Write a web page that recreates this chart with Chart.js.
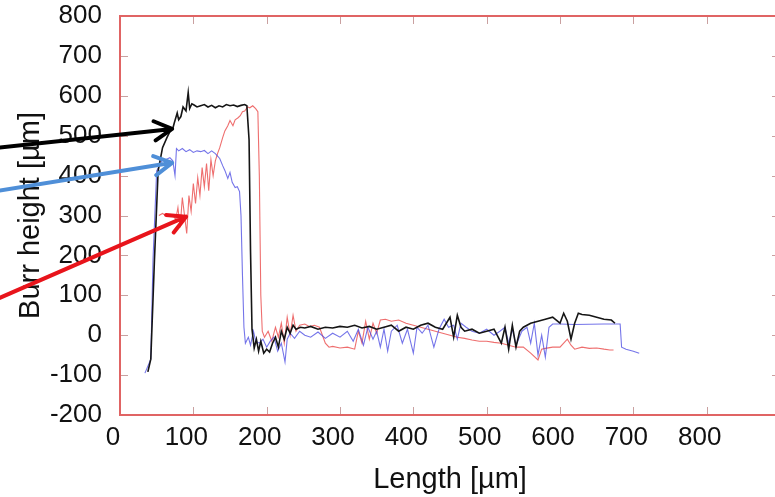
<!DOCTYPE html>
<html>
<head>
<meta charset="utf-8">
<script src="https://cdn.jsdelivr.net/npm/chart.js@4.4.1/dist/chart.umd.min.js"></script>
<style>
  html, body { margin: 0; padding: 0; background: #fff; overflow: hidden; }
  #wrap { width: 800px; height: 497px; }
</style>
</head>
<body>
<div id="wrap"><canvas id="burrChart" width="800" height="497"></canvas></div>
<script>
// === data ===
const blackLength = [38, 42, 47, 52, 58, 64, 68, 72, 74, 78, 80, 83, 86, 90, 93, 95, 98, 101, 105, 110, 115, 120, 125, 130, 135, 140, 145, 150, 155, 160, 165, 170, 173, 176, 178, 180, 183, 186, 189, 192, 196, 200, 204, 208, 212, 216, 220, 224, 228, 232, 236, 240, 246, 252, 260, 270, 280, 290, 300, 310, 320, 330, 340, 350, 360, 370, 380, 390, 400, 410, 420, 430, 440, 450, 455, 460, 465, 470, 480, 490, 500, 510, 520, 525, 530, 535, 540, 545, 550, 560, 570, 580, 590, 600, 605, 610, 615, 620, 625, 630, 640, 650, 660, 670, 675];
const blackHeight = [-92, -60, 190, 412, 470, 495, 510, 518, 532, 557, 540, 548, 572, 562, 608, 568, 580, 577, 572, 575, 578, 572, 576, 570, 575, 572, 578, 575, 577, 573, 576, 578, 575, 490, 210, 15, -32, -10, -40, -15, -45, -35, -42, -20, -5, -30, 10, -10, 20, 5, 25, 15, 20, 18, 22, 15, 20, 18, 22, 20, 25, 18, 22, 15, 20, 25, 10, 20, 15, 25, 30, 20, 15, 45, -5, 50, 20, 10, 15, 5, 10, 15, -20, 20, -35, 25, -30, 10, 20, 30, 35, 40, 45, 30, 55, 35, -10, 30, 55, 52, 50, 45, 40, 38, 30];

const blueLength = [34, 42, 45, 50, 57, 62, 68, 72, 75, 77, 80, 85, 90, 95, 100, 105, 110, 115, 120, 125, 130, 136, 140, 143, 147, 150, 153, 157, 160, 163, 165, 167, 169, 171, 175, 178, 182, 185, 190, 195, 200, 205, 210, 215, 220, 225, 228, 232, 238, 245, 252, 260, 270, 280, 290, 300, 310, 318, 325, 332, 338, 345, 350, 355, 360, 365, 370, 378, 385, 392, 400, 405, 412, 420, 428, 435, 442, 448, 455, 460, 465, 472, 480, 490, 500, 510, 518, 525, 530, 535, 540, 548, 555, 560, 565, 570, 575, 580, 585, 590, 600, 620, 660, 682, 684, 690, 700, 708];
const blueHeight = [-95, -60, 190, 412, 437, 440, 445, 437, 400, 468, 462, 468, 460, 465, 458, 462, 460, 463, 455, 462, 455, 443, 425, 413, 393, 408, 383, 370, 372, 360, 300, 150, 20, -20, -5, -25, 10, -15, -20, -10, -30, -15, -5, -40, -20, -67, -10, 5, -8, 10, 0, -5, 8, -8, 5, -5, 10, -15, 15, -25, 20, -10, 10, -30, 15, -40, 10, 25, -20, 15, -45, 20, 5, 25, -30, 15, 40, 20, 25, -10, 30, 20, 10, 5, 15, 0, 10, 20, -20, 15, -25, 10, 20, -20, 30, -50, 0, -55, 20, 28, 28, 27, 28, 28, -30, -35, -40, -45];

const redLength = [53, 58, 62, 68, 72, 76, 79, 82, 85, 88, 91, 94, 97, 100, 103, 106, 109, 112, 115, 118, 121, 124, 127, 130, 133, 136, 140, 143, 147, 150, 154, 157, 161, 164, 167, 170, 174, 177, 181, 185, 188, 190, 192, 194, 197, 202, 207, 212, 216, 220, 224, 228, 232, 236, 240, 245, 252, 258, 265, 272, 280, 285, 290, 300, 310, 320, 325, 330, 335, 340, 345, 350, 355, 362, 370, 380, 390, 400, 410, 420, 430, 440, 450, 460, 470, 480, 490, 500, 510, 520, 530, 540, 550, 560, 570, 575, 580, 590, 600, 610, 615, 620, 630, 640, 650, 660, 668, 673];
const redHeight = [300, 305, 300, 298, 300, 290, 320, 270, 345, 300, 255, 350, 310, 380, 330, 395, 350, 420, 372, 430, 362, 440, 400, 437, 455, 470, 495, 512, 525, 538, 525, 540, 545, 550, 560, 562, 572, 570, 575, 568, 560, 400, 100, 10, -5, 10, -15, 20, -5, 30, -20, 45, 0, 50, 10, 25, 28, 22, 25, 20, -20, -30, -28, -32, -30, -35, 10, -20, 35, -10, 30, 5, 38, 40, 35, 38, 30, 25, 20, 15, 10, 5, 0, -5, -8, -12, -15, -15, -18, -20, -25, -30, -30, -45, -62, -35, -33, -30, -30, -10, -25, -35, -30, -33, -32, -35, -37, -37];

// arrows drawn on top, in axis units: [fromX, fromY, toX, toY]
const arrowBlack = [-166, 470, 71, 517];
const arrowBlue = [-166, 362, 71, 432];
const arrowRed = [-166, 92, 90, 297];

const xTicksMax = 900;

function pts(xs, ys) {
    return xs.map((x, i) => ({ x: x, y: ys[i] }));
}

// === plugins ===
const frameColor = "#e06464";

const framePlugin = {
    id: "frame",
    afterDatasetsDraw(chart) {
        const { ctx, chartArea: a, scales } = chart;
        ctx.save();
        // inward ticks
        ctx.strokeStyle = "#c9a0a0";
        ctx.lineWidth = 1;
        scales.x.ticks.forEach(t => {
            const px = Math.round(scales.x.getPixelForValue(t.value)) + 0.5;
            ctx.beginPath();
            ctx.moveTo(px, a.bottom); ctx.lineTo(px, a.bottom - 8);
            ctx.moveTo(px, a.top); ctx.lineTo(px, a.top + 8);
            ctx.stroke();
        });
        scales.y.ticks.forEach(t => {
            const py = Math.round(scales.y.getPixelForValue(t.value)) + 0.5;
            ctx.beginPath();
            ctx.moveTo(a.left, py); ctx.lineTo(a.left + 8, py);
            ctx.moveTo(a.right, py); ctx.lineTo(a.right - 8, py);
            ctx.stroke();
        });
        // red box
        ctx.strokeStyle = frameColor;
        ctx.lineWidth = 2;
        ctx.strokeRect(a.left, a.top, a.right - a.left, a.bottom - a.top);
        ctx.restore();
    }
};

function drawArrow(ctx, x0, y0, x1, y1, color) {
    const ang = Math.atan2(y1 - y0, x1 - x0);
    const head = 20;
    ctx.strokeStyle = color;
    ctx.lineWidth = 4;
    ctx.lineCap = "round";
    ctx.lineJoin = "round";
    ctx.beginPath();
    ctx.moveTo(x0, y0);
    ctx.lineTo(x1, y1);
    ctx.moveTo(x1 - head * Math.cos(ang - 0.5), y1 - head * Math.sin(ang - 0.5));
    ctx.lineTo(x1, y1);
    ctx.lineTo(x1 - head * Math.cos(ang + 0.5), y1 - head * Math.sin(ang + 0.5));
    ctx.stroke();
}

const arrowPlugin = {
    id: "arrows",
    afterDraw(chart) {
        const { ctx, scales } = chart;
        const list = [[arrowBlack, "#000000"], [arrowBlue, "#4f8fd8"], [arrowRed, "#e8141b"]];
        ctx.save();
        list.forEach(([a, c]) => {
            drawArrow(ctx,
                scales.x.getPixelForValue(a[0]), scales.y.getPixelForValue(a[1]),
                scales.x.getPixelForValue(a[2]), scales.y.getPixelForValue(a[3]), c);
        });
        ctx.restore();
    }
};

// === chart ===
const tickFont = { family: "'Liberation Sans', Arial, sans-serif", size: 26 };
const titleFont = { family: "'Liberation Sans', Arial, sans-serif", size: 29 };

new Chart(document.getElementById("burrChart"), {
    type: "line",
    data: {
        datasets: [
            { label: "black", data: pts(blackLength, blackHeight), borderColor: "#151515", borderWidth: 1.6 },
            { label: "blue", data: pts(blueLength, blueHeight), borderColor: "rgba(70,70,225,0.75)", borderWidth: 1.1 },
            { label: "red", data: pts(redLength, redHeight), borderColor: "rgba(235,85,85,0.85)", borderWidth: 1.1 }
        ]
    },
    options: {
        responsive: false,
        animation: false,
        layout: { padding: { top: 16, right: 20, left: 0, bottom: 0 } },
        elements: { point: { radius: 0 }, line: { tension: 0 } },
        plugins: { legend: { display: false }, tooltip: { enabled: false } },
        scales: {
            x: {
                type: "linear",
                min: 0,
                max: xTicksMax,
                grid: { display: false, drawTicks: false },
                border: { display: false },
                ticks: {
                    stepSize: 100,
                    color: "#111",
                    font: tickFont,
                    padding: 7,
                    labelOffset: -7,
                    maxRotation: 0,
                    callback: v => (v === xTicksMax ? "" : v)
                },
                title: { display: true, text: "Length [µm]", color: "#111", font: titleFont, padding: { top: 0, bottom: 0 } },
                afterFit: s => { s.height = 82; }
            },
            y: {
                min: -200,
                max: 800,
                grid: { display: false, drawTicks: false },
                border: { display: false },
                ticks: { stepSize: 100, color: "#111", font: tickFont, padding: 18 },
                title: { display: true, text: "Burr height [µm]", color: "#111", font: titleFont, padding: { top: 14, bottom: 0 } },
                afterFit: s => { s.width = 120; s.paddingTop = 0; s.paddingBottom = 0; }
            }
        }
    },
    plugins: [framePlugin, arrowPlugin]
});
</script>
</body>
</html>
